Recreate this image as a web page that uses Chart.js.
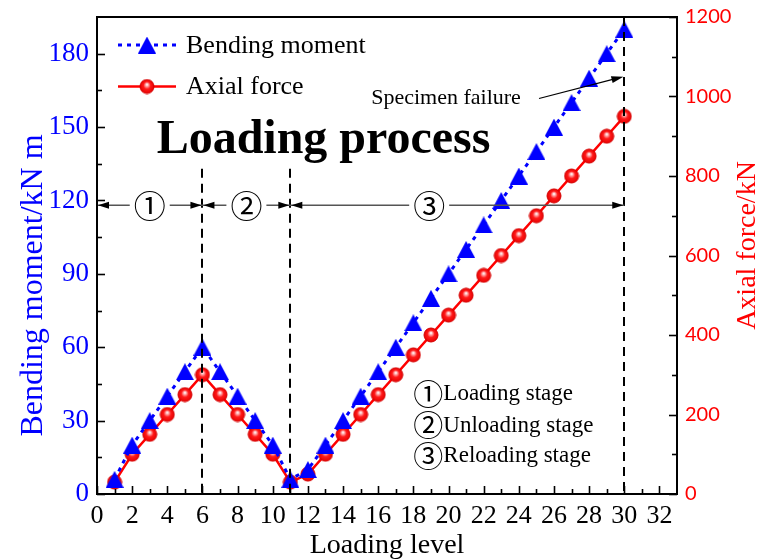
<!DOCTYPE html>
<html>
<head>
<meta charset="utf-8">
<script src="https://cdn.jsdelivr.net/npm/chart.js@4.4.0/dist/chart.umd.min.js"></script>
<style>
  html, body { margin: 0; padding: 0; background: #fff; }
  #wrap { width: 763px; height: 560px; }
</style>
</head>
<body>
<div id="wrap"><canvas id="c" width="763" height="560"></canvas></div>
<script>
// ---- data ----
const loadingLevels = [1, 2, 3, 4, 5, 6, 7, 8, 9, 10, 11, 12, 13, 14, 15, 16, 17, 18, 19, 20, 21, 22, 23, 24, 25, 26, 27, 28, 29, 30];
const bendingMoment = [6, 20, 30, 40, 50, 60, 50, 40, 30, 20, 6, 10, 20, 30, 40, 50, 60, 70, 80, 90, 100, 110, 120, 130, 140, 150, 160, 170, 180, 190];
const axialForce = [30, 100, 150, 200, 250, 300, 250, 200, 150, 100, 30, 50, 100, 150, 200, 250, 300, 350, 400, 450, 500, 550, 600, 650, 700, 750, 800, 850, 900, 950];
const xTickValues = [0, 2, 4, 6, 8, 10, 12, 14, 16, 18, 20, 22, 24, 26, 28, 30, 32];
const momentTickValues = [0, 30, 60, 90, 120, 150, 180];
const forceTickValues = [0, 200, 400, 600, 800, 1000, 1200];
const stageBounds = [0, 6, 11, 30];
const stageMarks = ['\u2460', '\u2461', '\u2462'];
const stageNames = ['Loading stage', 'Unloading stage', 'Reloading stage'];
const seriesNames = ['Bending moment', 'Axial force'];

const SERIF = "'Liberation Serif', 'Times New Roman', serif";
const MARKFONT = "'Noto Sans CJK SC', 'DejaVu Sans', sans-serif";
const BLUE = '#0000ff';
const RED = '#ff0000';

// marker images: solid blue triangle and shaded red ball
function makeTriangle(w, h) {
  const c = document.createElement('canvas');
  c.width = w; c.height = h;
  const g = c.getContext('2d');
  g.fillStyle = BLUE;
  g.beginPath();
  g.moveTo(w / 2, 0);
  g.lineTo(w, h);
  g.lineTo(0, h);
  g.closePath();
  g.fill();
  return c;
}
function makeBall(r) {
  const s = 2 * r + 2;
  const c = document.createElement('canvas');
  c.width = s; c.height = s;
  const g = c.getContext('2d');
  const cx = s / 2, cy = s / 2;
  const grad = g.createRadialGradient(cx, cy - r * 0.3, 0.3, cx, cy, r);
  grad.addColorStop(0, '#ffffff');
  grad.addColorStop(0.22, '#ff9a9a');
  grad.addColorStop(0.5, '#ff1a1a');
  grad.addColorStop(1, '#e80000');
  g.fillStyle = grad;
  g.beginPath();
  g.arc(cx, cy, r, 0, Math.PI * 2);
  g.fill();
  g.strokeStyle = '#d40000';
  g.lineWidth = 1;
  g.stroke();
  return c;
}
const triImg = makeTriangle(18, 17);
const ballImg = makeBall(7);

function arrowHead(ctx, tx, ty, dir, len, half) {
  // dir: unit vector pointing toward the tip
  const [dx, dy] = dir;
  ctx.beginPath();
  ctx.moveTo(tx, ty);
  ctx.lineTo(tx - dx * len - dy * half, ty - dy * len + dx * half);
  ctx.lineTo(tx - dx * len + dy * half, ty - dy * len - dx * half);
  ctx.closePath();
  ctx.fill();
}

const decor = {
  id: 'decor',
  afterDatasetsDraw(chart) {
    const { ctx, chartArea: a } = chart;
    const x = chart.scales.x, yL = chart.scales.yL, yR = chart.scales.yR;
    ctx.save();

    // stage boundary dashed lines
    ctx.strokeStyle = '#000';
    ctx.lineWidth = 2;
    ctx.setLineDash([9, 6]);
    const tops = [133, 133, 195];
    stageBounds.slice(1).forEach((b, i) => {
      const px = Math.round(x.getPixelForValue(b));
      ctx.beginPath();
      ctx.moveTo(px, yL.getPixelForValue(tops[i]));
      ctx.lineTo(px, a.bottom);
      ctx.stroke();
    });
    ctx.setLineDash([]);

    // stage span arrows
    const ay = yL.getPixelForValue(118);
    ctx.strokeStyle = '#555';
    ctx.lineWidth = 1.5;
    ctx.beginPath();
    ctx.moveTo(x.getPixelForValue(stageBounds[0]), ay);
    ctx.lineTo(x.getPixelForValue(stageBounds[stageBounds.length - 1]), ay);
    ctx.stroke();
    ctx.fillStyle = '#000';
    for (let i = 0; i < stageBounds.length - 1; i++) {
      const p0 = x.getPixelForValue(stageBounds[i]);
      const p1 = x.getPixelForValue(stageBounds[i + 1]);
      arrowHead(ctx, p0 + 1, ay, [-1, 0], 11, 3.5);
      arrowHead(ctx, p1 - 1, ay, [1, 0], 11, 3.5);
    }
    const markAt = [3, 8.5, 18.9];
    ctx.font = '32px ' + MARKFONT;
    ctx.textAlign = 'center';
    ctx.textBaseline = 'middle';
    stageMarks.forEach((m, i) => {
      const px = x.getPixelForValue(markAt[i]);
      ctx.fillStyle = '#fff';
      ctx.fillRect(px - 20, ay - 4, 40, 8);
      ctx.fillStyle = '#000';
      ctx.fillText(m, px, ay);
    });

    // failure note with arrow
    ctx.font = '22px ' + SERIF;
    ctx.textAlign = 'left';
    ctx.textBaseline = 'alphabetic';
    ctx.fillStyle = '#000';
    ctx.fillText('Specimen failure', x.getPixelForValue(15.6), yL.getPixelForValue(159.3));
    const sx = x.getPixelForValue(25.15), sy = yL.getPixelForValue(161.7);
    const ex = x.getPixelForValue(29.95), ey = yL.getPixelForValue(170.6);
    const L = Math.hypot(ex - sx, ey - sy);
    const u = [(ex - sx) / L, (ey - sy) / L];
    ctx.strokeStyle = '#000';
    ctx.lineWidth = 1.2;
    ctx.beginPath();
    ctx.moveTo(sx, sy);
    ctx.lineTo(ex - u[0] * 8, ey - u[1] * 8);
    ctx.stroke();
    arrowHead(ctx, ex, ey, u, 12, 3.5);

    // heading
    ctx.font = 'bold 48px ' + SERIF;
    ctx.textAlign = 'center';
    ctx.fillText('Loading process', x.getPixelForValue(12.89), yL.getPixelForValue(139.6));

    // stage notes
    ctx.textAlign = 'left';
    ctx.textBaseline = 'middle';
    const noteX = x.getPixelForValue(18.0);
    const noteY = [41.2, 28.3, 15.8];
    stageNames.forEach((t, i) => {
      const py = yL.getPixelForValue(noteY[i]);
      ctx.font = '30px ' + MARKFONT;
      ctx.fillText(stageMarks[i], noteX, py);
      const w = ctx.measureText(stageMarks[i]).width;
      ctx.font = '23px ' + SERIF;
      ctx.fillText(t, noteX + w, py + 1);
    });

    // frame
    ctx.strokeStyle = '#000';
    ctx.lineWidth = 2;
    ctx.strokeRect(a.left, a.top, a.right - a.left, a.bottom - a.top);

    // inward ticks: majors on the labelled values, minors halfway
    ctx.lineWidth = 1.6;
    const tick = (x1, y1, x2, y2) => { ctx.beginPath(); ctx.moveTo(x1, y1); ctx.lineTo(x2, y2); ctx.stroke(); };
    xTickValues.forEach(v => {
      const px = Math.round(x.getPixelForValue(v)) + 0.5;
      tick(px, a.bottom, px, a.bottom - 8);
      const m = v + 1;
      if (m < x.max) {
        const pm = Math.round(x.getPixelForValue(m)) + 0.5;
        tick(pm, a.bottom, pm, a.bottom - 5);
      }
    });
    momentTickValues.forEach(v => {
      const py = Math.round(yL.getPixelForValue(v)) + 0.5;
      tick(a.left, py, a.left + 8, py);
      const m = v + 15;
      if (m < yL.max) {
        const pm = Math.round(yL.getPixelForValue(m)) + 0.5;
        tick(a.left, pm, a.left + 5, pm);
      }
    });
    forceTickValues.forEach(v => {
      const py = Math.round(yR.getPixelForValue(v)) + 0.5;
      tick(a.right, py, a.right - 8, py);
      const m = v + 100;
      if (m < yR.max) {
        const pm = Math.round(yR.getPixelForValue(m)) + 0.5;
        tick(a.right, pm, a.right - 5, pm);
      }
    });

    // legend
    const ds = chart.data.datasets;
    const lx0 = a.left + 21, lx1 = a.left + 79, lm = (lx0 + lx1) / 2;
    const rows = [a.top + 28, a.top + 69.5];
    ds.forEach((d, i) => {
      const ly = rows[i];
      ctx.strokeStyle = d.borderColor;
      ctx.lineWidth = d.borderWidth;
      ctx.setLineDash(d.borderDash || []);
      ctx.beginPath();
      ctx.moveTo(lx0, ly);
      ctx.lineTo(lx1, ly);
      ctx.stroke();
      ctx.setLineDash([]);
      const img = d.pointStyle;
      ctx.drawImage(img, lm - img.width / 2, ly - img.height / 2);
      ctx.fillStyle = '#000';
      ctx.font = '26px ' + SERIF;
      ctx.textAlign = 'left';
      ctx.textBaseline = 'middle';
      ctx.fillText(d.label, lx1 + 10, ly + 1);
    });

    // axis titles
    ctx.textBaseline = 'alphabetic';
    ctx.textAlign = 'center';
    ctx.fillStyle = BLUE;
    ctx.font = '32px ' + SERIF;
    ctx.save();
    ctx.translate(42, 285.5);
    ctx.rotate(-Math.PI / 2);
    ctx.fillText('Bending moment/kN m', 0, 0);
    ctx.restore();

    ctx.fillStyle = RED;
    ctx.font = '28px ' + SERIF;
    ctx.save();
    ctx.translate(755, 245.5);
    ctx.rotate(-Math.PI / 2);
    ctx.fillText('Axial force/kN', 0, 0);
    ctx.restore();

    ctx.fillStyle = '#000';
    ctx.font = '28px ' + SERIF;
    ctx.fillText('Loading level', 387, 553);

    ctx.restore();
  }
};

const noEdgePadding = s => { s.paddingTop = 0; s.paddingBottom = 0; s.paddingLeft = 0; s.paddingRight = 0; };

new Chart(document.getElementById('c'), {
  type: 'line',
  data: {
    datasets: [
      {
        label: seriesNames[0],
        data: loadingLevels.map((l, i) => ({ x: l, y: bendingMoment[i] })),
        yAxisID: 'yL',
        borderColor: BLUE,
        borderWidth: 3,
        borderDash: [4, 5],
        pointStyle: triImg,
        pointRadius: 9,
        tension: 0
      },
      {
        label: seriesNames[1],
        data: loadingLevels.map((l, i) => ({ x: l, y: axialForce[i] })),
        yAxisID: 'yR',
        borderColor: RED,
        borderWidth: 2.5,
        pointStyle: ballImg,
        pointRadius: 7,
        tension: 0
      }
    ]
  },
  options: {
    responsive: false,
    animation: false,
    devicePixelRatio: 1,
    layout: { padding: { top: 17, left: 0, right: 0, bottom: 0 } },
    plugins: { legend: { display: false }, tooltip: { enabled: false } },
    scales: {
      x: {
        type: 'linear',
        min: 0, max: 33,
        afterBuildTicks: s => { s.ticks = xTickValues.map(v => ({ value: v })); },
        afterFit: s => { s.height = 66; noEdgePadding(s); },
        grid: { display: false, drawTicks: false },
        border: { display: false },
        ticks: { color: '#000', font: { family: SERIF, size: 26 }, padding: 7, autoSkip: false, maxRotation: 0, callback: v => String(v) }
      },
      yL: {
        type: 'linear', axis: 'y', position: 'left',
        min: 0, max: 195,
        afterBuildTicks: s => { s.ticks = momentTickValues.map(v => ({ value: v })); },
        afterFit: s => { s.width = 97; noEdgePadding(s); },
        grid: { display: false, drawTicks: false },
        border: { display: false },
        ticks: { color: BLUE, font: { family: SERIF, size: 27 }, padding: 8, callback: v => String(v) }
      },
      yR: {
        type: 'linear', axis: 'y', position: 'right',
        min: 0, max: 1200,
        afterBuildTicks: s => { s.ticks = forceTickValues.map(v => ({ value: v })); },
        afterFit: s => { s.width = 86; noEdgePadding(s); },
        grid: { display: false, drawTicks: false },
        border: { display: false },
        ticks: { color: RED, font: { family: 'Lato', size: 20 }, padding: 8, callback: v => String(v) }
      }
    }
  },
  plugins: [decor]
});
</script>
</body>
</html>
